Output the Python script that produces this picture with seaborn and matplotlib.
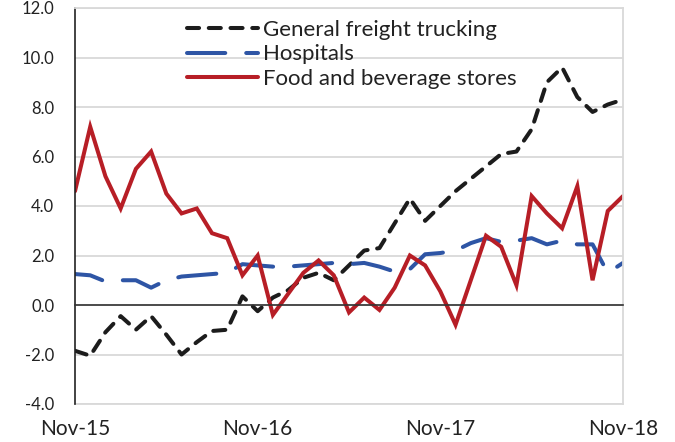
import numpy as np
import pandas as pd
import seaborn as sns
import matplotlib.pyplot as plt

# monthly series, Nov-15 .. Nov-18 (percent change)
months = pd.date_range("2015-11-01", periods=37, freq="MS").strftime("%b-%y").tolist()

trucking = [-1.85, -2.05, -1.1, -0.45, -1.0, -0.45, -1.2, -2.0, -1.5, -1.05,
            -1.0, 0.35, -0.25, 0.3, 0.6, 1.1, 1.3, 1.0, 1.6, 2.2,
            2.3, 3.3, 4.3, 3.4, 4.0, 4.6, 5.1, 5.6, 6.1, 6.2,
            7.1, 9.0, 9.6, 8.4, 7.8, 8.1, 8.3]
hospitals = [1.25, 1.2, 0.95, 1.0, 1.0, 0.7, 1.0, 1.15, 1.2, 1.25,
             1.3, 1.65, 1.6, 1.55, 1.55, 1.6, 1.65, 1.7, 1.65, 1.7,
             1.55, 1.35, 1.45, 2.05, 2.1, 2.2, 2.5, 2.7, 2.55, 2.6,
             2.7, 2.45, 2.6, 2.45, 2.45, 1.3, 1.7]
food = [4.6, 7.2, 5.2, 3.9, 5.5, 6.2, 4.5, 3.7, 3.9, 2.9,
        2.7, 1.2, 2.0, -0.4, 0.45, 1.3, 1.8, 1.2, -0.3, 0.3,
        -0.2, 0.7, 2.0, 1.6, 0.55, -0.8, 1.0, 2.8, 2.35, 0.8,
        4.4, 3.7, 3.1, 4.8, 1.0, 3.8, 4.4]

series = ["General freight trucking", "Hospitals", "Food and beverage stores"]
colors = {"General freight trucking": "#1c1c1c",
          "Hospitals": "#2e55a5",
          "Food and beverage stores": "#b71e26"}
dash_styles = {"General freight trucking": (3.0, 2.4),
               "Hospitals": (9.5, 5.2),
               "Food and beverage stores": ""}

xtick_pos = [0, 12, 24, 36]
yticks = np.arange(-4, 12.1, 2)

df = pd.DataFrame({"month": range(len(months)),
                   "General freight trucking": trucking,
                   "Hospitals": hospitals,
                   "Food and beverage stores": food})
df = df.melt(id_vars="month", var_name="series", value_name="value")

sns.set_style("white")
plt.rcParams["font.family"] = ["Lato", "DejaVu Sans"]

fig = plt.figure(figsize=(6.75, 4.42), dpi=100)
ax = fig.add_axes([75 / 675, 1 - 404 / 442, 548 / 675, 396 / 442])

sns.lineplot(data=df, x="month", y="value", hue="series", style="series",
             hue_order=series, style_order=series, palette=colors,
             dashes=dash_styles, linewidth=2.9, legend=False, ax=ax,
             dash_capstyle="round", solid_capstyle="round",
             solid_joinstyle="miter")

lines = ax.get_lines()[:3]
leg = ax.legend(lines, series, loc="upper left", bbox_to_anchor=(0.204, 0.97),
                frameon=False, fontsize=16, handlelength=3.2,
                handletextpad=0.25, labelspacing=0.2, borderpad=0,
                borderaxespad=0)
for t in leg.get_texts():
    t.set_color("#222222")
# shift the hospital dash phase (after the legend) so the last rise shows
lines[1].set_linestyle((2.5, dash_styles["Hospitals"]))

ax.set_xlim(0, 36)
ax.set_ylim(-4, 12)
ax.set_yticks(yticks)
ax.set_yticklabels([f"{v:.1f}" for v in yticks])
ax.yaxis.grid(True, color="#d9d9d9", linewidth=1.3)
ax.set_axisbelow(True)
ax.set_xlabel("")
ax.set_ylabel("")

# zero line carries the x ticks, labels sit at the bottom
ax.spines["bottom"].set_position(("data", 0))
ax.spines["bottom"].set_color("#333333")
ax.spines["bottom"].set_linewidth(1.2)
ax.spines["left"].set_color("#222222")
ax.spines["left"].set_linewidth(1.2)
for s in ["top", "right"]:
    ax.spines[s].set_color("#d9d9d9")
    ax.spines[s].set_linewidth(1.3)
ax.set_xticks(xtick_pos)
ax.tick_params(axis="x", direction="inout", length=8, width=1.1,
               color="#333333", labelbottom=False)
ax.tick_params(axis="y", length=0, pad=15, labelsize=12, labelcolor="#222222")

sec = ax.secondary_xaxis("bottom")
sec.set_xticks(xtick_pos)
sec.set_xticklabels([months[i] for i in xtick_pos])
sec.tick_params(length=0, pad=11, labelsize=15, labelcolor="#222222")
sec.spines["bottom"].set_color("#d9d9d9")
sec.spines["bottom"].set_linewidth(1.3)

plt.savefig("out.png", dpi=100)
plt.close()
